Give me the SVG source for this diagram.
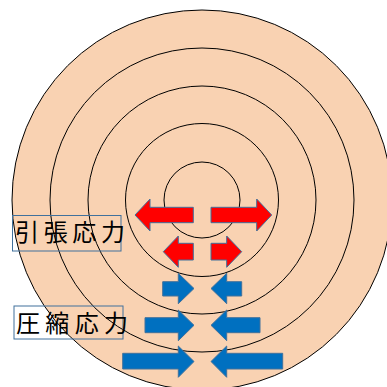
<svg xmlns="http://www.w3.org/2000/svg" width="387" height="387" viewBox="0 0 387 387">
<style>
.ring{fill:none;stroke:#000;stroke-width:1}
.tens{fill:#FF0000;stroke:#41719C;stroke-width:1}
.comp{fill:#0070C0;stroke:#41719C;stroke-width:1}
.box{fill:none;stroke:#41719C;stroke-width:1}
.lbl{font-family:"Noto Sans CJK JP","Noto Sans",sans-serif;font-size:24px;fill:#000}
</style>
<rect width="387" height="387" fill="#fff"/>
<g id="rings">
<circle cx="202" cy="200" r="190" fill="#F9D2B2" stroke="#000" stroke-width="1"/>
<circle class="ring" cx="202" cy="200" r="152"/>
<circle class="ring" cx="202" cy="200" r="114"/>
<circle class="ring" cx="202" cy="200" r="76.5"/>
<circle class="ring" cx="202" cy="200" r="38"/>
</g>
<g id="label-tension">
<rect class="box" x="12.5" y="215.5" width="108.5" height="35.5"/>
<text class="lbl" x="15" y="241" textLength="110" lengthAdjust="spacing">引張応力</text>
</g>
<g id="label-compression">
<rect class="box" x="14" y="306" width="109" height="33"/>
<text class="lbl" x="16" y="332" textLength="112" lengthAdjust="spacing">圧縮応力</text>
</g>
<g id="connectors">
<polygon class="tens" points="135,215 150,199 150,207.3 193.3,207.3 193.3,222.7 150,222.7 150,231"/>
<polygon class="tens" points="211,207.3 256.7,207.3 256.7,199 271.7,215 256.7,231 256.7,222.7 211,222.7"/>
<polygon class="tens" points="163.3,251.7 178.3,236 178.3,243.3 193.3,243.3 193.3,260 178.3,260 178.3,267.3"/>
<polygon class="tens" points="211,243.3 226.7,243.3 226.7,236 241.7,251.7 226.7,267.3 226.7,260 211,260"/>
<polygon class="comp" points="162.7,281.7 178.3,281.7 178.3,273.3 194,288.5 178.3,303.7 178.3,296 162.7,296"/>
<polygon class="comp" points="241.7,281.7 226.7,281.7 226.7,273.3 211,288.5 226.7,303.7 226.7,296 241.7,296"/>
<polygon class="comp" points="145,317.7 178.3,317.7 178.3,310 194,325.3 178.3,340.7 178.3,332.7 145,332.7"/>
<polygon class="comp" points="260,317.7 226.7,317.7 226.7,310 211,325.3 226.7,340.7 226.7,332.7 260,332.7"/>
<polygon class="comp" points="122.7,353.3 178.3,353.3 178.3,346 194,361.5 178.3,377.3 178.3,369 122.7,369"/>
<polygon class="comp" points="282.7,353.3 226.7,353.3 226.7,346 211,361.5 226.7,377.3 226.7,369 282.7,369"/>
</g>
</svg>
